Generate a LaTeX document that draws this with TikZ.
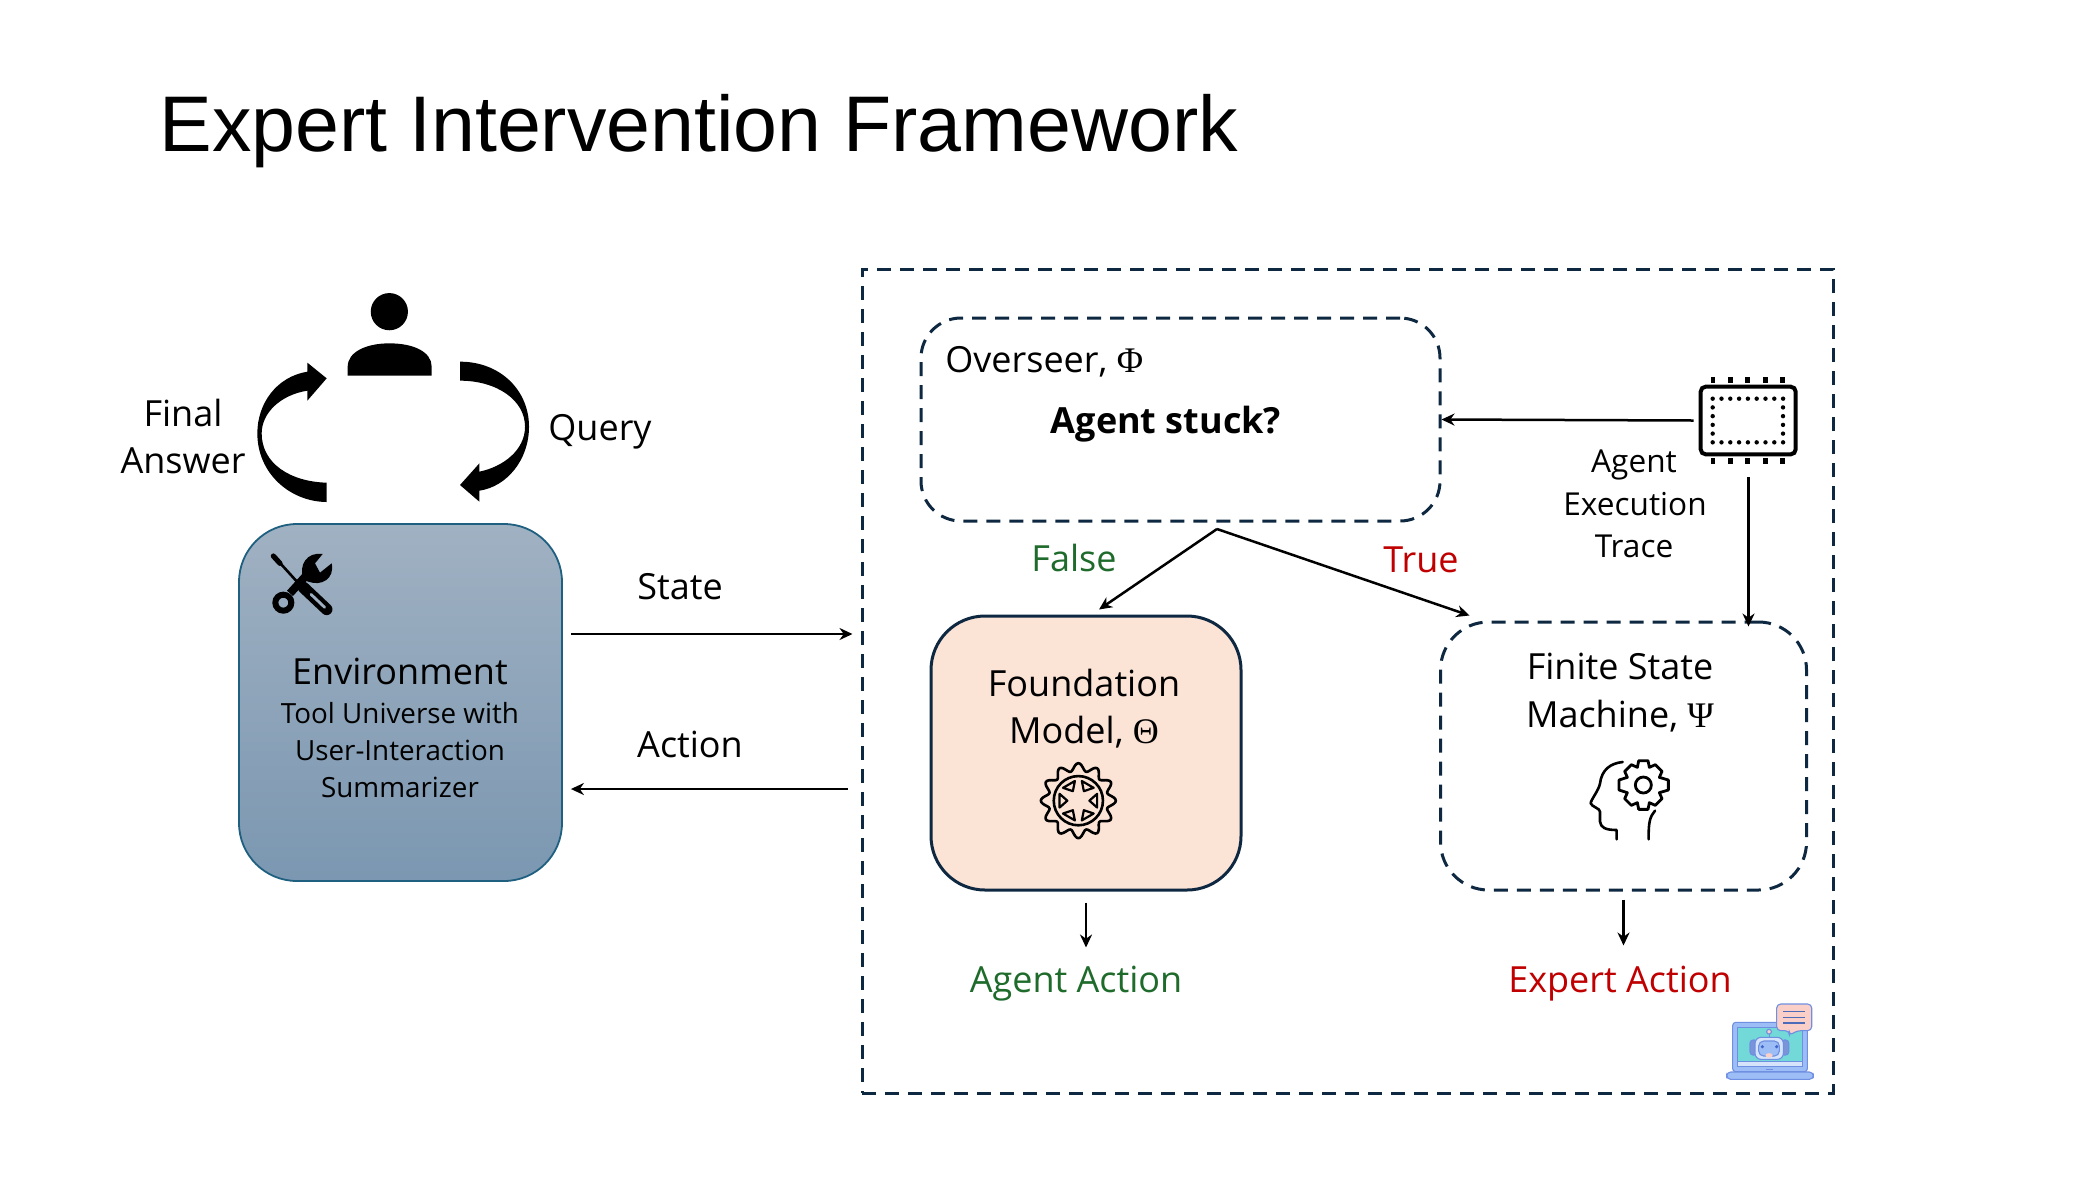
\documentclass[tikz,border=0pt]{standalone}
\usepackage{fontspec}
\setmainfont{Open Sans}
\newfontfamily\symf{Liberation Serif}
\newfontfamily\titlef{Liberation Sans}
\usetikzlibrary{arrows.meta,shapes.geometric}
\definecolor{navy}{HTML}{0E2841}
\definecolor{grn}{HTML}{1E6B2B}
\definecolor{redd}{HTML}{C00000}
\definecolor{fnd}{HTML}{FBE3D6}
\definecolor{envb}{HTML}{1F6080}
\definecolor{envt}{HTML}{A0B1C2}
\definecolor{envbt}{HTML}{7B97B1}
\definecolor{envm}{HTML}{9DAFC0}
\definecolor{lpb}{HTML}{6F8FE0}
\definecolor{lpf}{HTML}{9DBDF7}
\definecolor{lpt}{HTML}{72D8D8}
\definecolor{lpl}{HTML}{D5E4FA}
\definecolor{lpd}{HTML}{3F66C8}
\definecolor{pinkb}{HTML}{F9CFC8}
\tikzset{
  x=0.5pt,y=-0.5pt,
  dbox/.style={draw=navy,line width=1.5pt,dash pattern=on 7pt off 4.5pt,rounded corners=#1,inner sep=0pt},
  conn/.style={line width=1.25pt,-{Stealth[length=6.5pt,width=6pt]}},
  lbl/.style={inner sep=0pt,anchor=base,align=center,font=\fontsize{18}{20}\selectfont},
  small/.style={lbl,font=\fontsize{13.9}{17}\selectfont},
  mid/.style={lbl,font=\fontsize{15.8}{18}\selectfont},
  ico/.style={line width=1.3pt,line join=round,line cap=round},
  zoomed/.style={x=0.166667pt,y=-0.166667pt},
}
\begin{document}
\begin{tikzpicture}
\useasboundingbox[fill=white] (0,0) rectangle (2096,1179);
\node[inner sep=0pt,anchor=base west,font=\titlef\fontsize{39.45}{48}\selectfont] (title) at (159,151) {Expert Intervention Framework};

% containers
\node[dbox=0pt,minimum width=485.5pt,minimum height=412pt] (outer) at (1347.5,681) {};
\node[dbox=20pt,minimum width=259.5pt,minimum height=101.5pt] (over) at (1180.5,419.5) {};
\node[draw=navy,line width=1.5pt,fill=fnd,rounded corners=27pt,minimum width=155pt,minimum height=137pt,inner sep=0pt] (found) at (1086,753) {};
\node[dbox=24pt,minimum width=183pt,minimum height=134pt] (fsm) at (1623.5,756) {};
\node[draw=envb,line width=0.9pt,top color=envt,bottom color=envbt,rounded corners=29pt,minimum width=161.5pt,minimum height=178.5pt,inner sep=0pt] (env) at (400.5,702.5) {};
\coordinate (split) at (1217,529);
\coordinate (chipc) at (1748.5,420.5);

% chip
\begin{scope}[shift={(1680,360)},zoomed]
\draw[line width=2pt,rounded corners=2.5pt] (62,80) rectangle (347,283);
\foreach \i in {0,...,8}{\fill ({98+\i*26.4},116) circle (1.1pt);\fill ({98+\i*26.4},247) circle (1.1pt);}
\foreach \j in {1,...,4}{\fill (98,{116+\j*26.2}) circle (1.1pt);\fill (309,{116+\j*26.2}) circle (1.1pt);}
\foreach \i in {99,151,203,256,308}{\fill ({\i-7},52) rectangle ({\i+7},70);\fill ({\i-7},293) rectangle ({\i+7},312);}
\end{scope}
\node[inner sep=0pt,minimum width=47.5pt,minimum height=33.5pt] (chip) at (chipc) {};

% connectors
\draw[conn] ([shift={(8,-68.5)}]env.east) -- ([shift={(-8,-47)}]outer.west);
\draw[conn] ([shift={(-13,108)}]outer.west) -- ([shift={(8,86.5)}]env.east);
\draw[conn] (split) -- ([shift={(13,-5)}]found.north);
\draw[conn] (split) -- ([shift={(-154,-5)}]fsm.north);
\draw[conn] ([shift={(-7,0)}]chip.west) -- (over.east);
\draw[conn] ([shift={(0,23)}]chip.south) -- ([yshift=-3pt]fsm.north -| chip.south);
\draw[conn] ([shift={(0,11)}]found.south) -- ([shift={(0,56)}]found.south);
\draw[conn] ([shift={(0,8)}]fsm.south) -- ([shift={(0,54)}]fsm.south);

% person + loop arrows
\begin{scope}[shift={(100,270)},zoomed]
\fill (868,125) circle (9.3pt);
\fill (743,317) -- (743,290) .. controls (743,245) and (800,220) .. (868,220) .. controls (940,220) and (995,245) .. (995,290) -- (995,317) -- cycle;
\fill (680,638) .. controls (570,635) and (485,580) .. (485,490) .. controls (485,430) and (540,375) .. (622,362) -- (622,392) -- (680,325) -- (622,278) -- (622,305) .. controls (530,320) and (472,400) .. (472,490) .. controls (472,610) and (570,695) .. (680,696) -- cycle;
\fill (1080,275) .. controls (1200,275) and (1287,360) .. (1287,470) .. controls (1287,570) and (1220,650) .. (1138,662) -- (1138,695) -- (1080,645) -- (1138,580) -- (1138,605) .. controls (1210,590) and (1275,540) .. (1275,470) .. controls (1275,390) and (1190,332) .. (1080,332) -- cycle;
\end{scope}

% tools icon
\begin{scope}[shift={(250,530)},zoomed]
\draw[line width=1.3pt] (82,90) -- (150,165);
\draw[line width=2.6pt,line cap=round] (70,78) -- (90,100);
\draw[line width=5.8pt,line cap=round] (160,172) -- (230,238);
\draw[line width=1.4pt,line cap=round,draw=envm] (183,193) -- (224,232);
\draw[line width=4pt] (120,190) -- (170,135);
\draw[line width=3pt] (100,218) circle (24);
\fill (150,165) circle (2.6pt);
\fill (160,150) .. controls (145,105) and (170,65) .. (218,72) -- (195,100) -- (210,128) -- (245,100) .. controls (255,145) and (215,170) .. (175,155) -- cycle;
\end{scope}

% gear (foundation)
\begin{scope}[shift={(1000,740)},zoomed]
\draw[ico] plot[domain=0:360,samples=145,smooth] ({235+(101+11.5*cos(12*\x))*cos(\x)},{182+(101+11.5*cos(12*\x))*sin(\x)}) -- cycle;
\draw[line width=1.3pt] (235,182) circle (12.3pt);
\foreach \a in {0,60,120,180,240,300}{
 \draw[line width=1.1pt,line join=round] ({235+33*cos(\a)},{182-33*sin(\a)}) -- ({235+60*cos(\a+20)},{182-60*sin(\a+20)}) -- ({235+60*cos(\a-20)},{182-60*sin(\a-20)}) -- cycle;
}
\end{scope}

% head icon
\begin{scope}[shift={(1560,740)},zoomed]
\draw[ico] (188,66) .. controls (150,70) and (125,90) .. (120,130) .. controls (117,150) and (92,180) .. (92,190) .. controls (95,200) and (120,205) .. (120,215) -- (120,245) .. controls (122,262) and (135,270) .. (170,270) -- (170,298);
\draw[ico] (285,212) .. controls (270,230) and (265,245) .. (266,298);
\draw[line width=1.4pt] (250,135) circle (4pt);
\draw[line width=1.4pt,line join=round]
 (236,62)--(264,62)--(268,82)--(286,74)--(306,94)--(298,112)--(325,120)--(325,150)--(298,158)--(306,176)--(286,196)--(268,188)--(264,208)--(236,208)--(232,188)--(214,196)--(194,176)--(202,158)--(177,150)--(177,120)--(202,112)--(194,94)--(214,74)--(232,82)--cycle;
\end{scope}

% laptop
\begin{scope}[shift={(1700,980)},zoomed]
\tikzset{lp/.style={draw=lpb,line width=0.55pt}}
\draw[lp,fill=lpf,rounded corners=1.5pt] (98,127) rectangle (322,275);
\draw[lp,fill=lpt] (113,142) rectangle (307,245);
\draw[lp,fill=lpl] (113,245) rectangle (307,259);
\draw[lp,fill=lpf,rounded corners=2pt] (80,276) rectangle (340,298);
\draw[lpb,line width=0.5pt] (197,267) -- (218,267);
\draw[lp,fill=lpd!70!white,rounded corners=1.5pt] (150,180) rectangle (172,225);
\draw[lp,fill=lpd!70!white,rounded corners=1.5pt] (244,180) rectangle (266,225);
\draw[lpb,line width=0.5pt] (207,158) -- (207,172);
\draw[lp,fill=pinkb] (207,155) circle (1.2pt);
\draw[lp,fill=lpl,rounded corners=3pt] (165,172) rectangle (250,238);
\draw[lp,fill=lpf,rounded corners=2.5pt] (176,183) rectangle (238,228);
\fill[lpd] (187,200) circle (0.9pt) (230,200) circle (0.9pt);
\fill[pinkb] (207,226) ellipse (1.8pt and 1.1pt);
\draw[lp,fill=pinkb,rounded corners=2pt] (230,72) -- (335,72) -- (335,152) -- (290,152) -- (268,167) -- (268,152) -- (230,152) -- cycle;
\foreach \y in {95,112,129}{\draw[lpd!80!gray,line width=0.8pt] (250,\y) -- (315,\y);}
\end{scope}

% texts
\node[lbl] (tfin) at (183,426) {Final};
\node[lbl] (tans) at (183,473) {Answer};
\node[lbl] (tq) at (600,440) {Query};
\node[lbl] (tenv) at (400,684) {Environment};
\node[small] (t1) at (400,723) {Tool Universe with};
\node[small] (t2) at (400,760) {User-Interaction};
\node[small] (t3) at (400,797) {Summarizer};
\node[lbl] (tst) at (680,599) {State};
\node[lbl] (tac) at (690,757) {Action};
\node[lbl,anchor=base west] (tov) at (945,372) {Overseer, {\symf Φ}};
\node[lbl,font=\fontsize{18}{20}\selectfont\bfseries] (tstuck) at (1166,433) {Agent stuck?};
\node[lbl,text=grn] (tfalse) at (1074,571) {False};
\node[lbl,text=redd] (ttrue) at (1421,572) {True};
\node[lbl] (tf1) at (1084,696) {Foundation};
\node[lbl] (tf2) at (1084,743) {Model, {\symf Θ}};
\node[lbl] (ts1) at (1620,679) {Finite State};
\node[lbl] (ts2) at (1620,727) {Machine, {\symf Ψ}};
\node[mid] (ta1) at (1634,472) {Agent};
\node[mid] (ta2) at (1635,515) {Execution};
\node[mid] (ta3) at (1634,557) {Trace};
\node[lbl,text=grn] (taa) at (1076,992) {Agent Action};
\node[lbl,text=redd] (tea) at (1620,992) {Expert Action};
\end{tikzpicture}
\end{document}
